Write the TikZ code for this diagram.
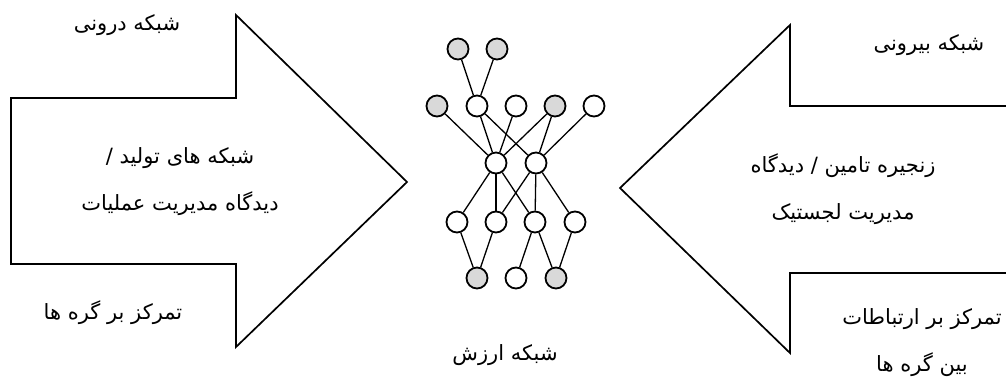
\documentclass[tikz,border=0pt]{standalone}
\usepackage{fontspec}
\newfontfamily\arabicfont[Script=Arabic]{DejaVu Sans}
\TeXXeTstate=1
\usetikzlibrary{positioning}

\begin{document}
\begin{tikzpicture}[x=1pt, y=-1pt,
    nd/.style={circle, draw, line width=1.8pt, minimum size=21pt, inner sep=0pt, fill=white},
    gnd/.style={nd, fill=black!15},
    lnk/.style={line width=1.3pt},
    shp/.style={line width=1.7pt, line join=miter},
    lbl/.style={font=\arabicfont\fontsize{21}{47}\selectfont, align=center, inner sep=0pt}
  ]
  \useasboundingbox (0,0) rectangle (1006,376);
  \clip (0,0) rectangle (1006,376);

  % big arrows
  \draw[shp] (11,98) -- (236,98) -- (236,15) -- (407,182) -- (236,347)
             -- (236,264) -- (11,264) -- cycle;
  \draw[shp] (1012,106) -- (790,106) -- (790,25) -- (620,188) -- (790,353)
             -- (790,273) -- (1012,273);

  % left arrow texts
  \node[lbl] (inner) at (127,25) {\beginR شبکه درونی\endR};
  \node[lbl] (prod) at (180,182)
       {\beginR شبکه های تولید /\endR\\\beginR دیدگاه مدیریت عملیات\endR};
  \node[lbl] (nodefoc) at (113,313) {\beginR تمرکز بر گره ها\endR};

  % right arrow texts
  \node[lbl] (outer) at (929,45) {\beginR شبکه بیرونی\endR};
  \node[lbl] (supply) at (843,189)
       {\beginR زنجیره تامین / دیدگاه\endR\\\beginR مدیریت لجستیک\endR};
  \node[lbl] (linkfoc) at (922,343)
       {\beginR تمرکز بر ارتباطات\endR\\\beginR بین گره ها\endR};

  % value network
  \node[gnd] (t1) at (458,49) {};
  \node[gnd] (t2) at (497,49) {};
  \node[gnd] (m1) at (437,106) {};
  \node[nd]  (m2) at (477,106) {};
  \node[nd]  (m3) at (516,106) {};
  \node[gnd] (m4) at (555,106) {};
  \node[nd]  (m5) at (594,106) {};
  \node[nd]  (c1) at (496,163) {};
  \node[nd]  (c2) at (536,163) {};
  \node[nd]  (d1) at (457,222) {};
  \node[nd]  (d2) at (496,222) {};
  \node[nd]  (d3) at (535,222) {};
  \node[nd]  (d4) at (575,222) {};
  \node[gnd] (b1) at (477,278) {};
  \node[nd]  (b2) at (516,278) {};
  \node[gnd] (b3) at (556,278) {};

  \foreach \a/\b in {t1/m2, t2/m2, m1/c1, m2/c1, m2/c2, m3/c1, m4/c1, m4/c2,
                     m5/c2, c1/d1, c1/d2, c1/d3, c2/d2, c2/d3, c2/d4,
                     d1/b1, d2/b1, d3/b2, d3/b3, d4/b3}
    \draw[lnk] (\a) -- (\b);

  \node[lbl] (value) at (505,355) {\beginR شبکه ارزش\endR};
\end{tikzpicture}
\end{document}
